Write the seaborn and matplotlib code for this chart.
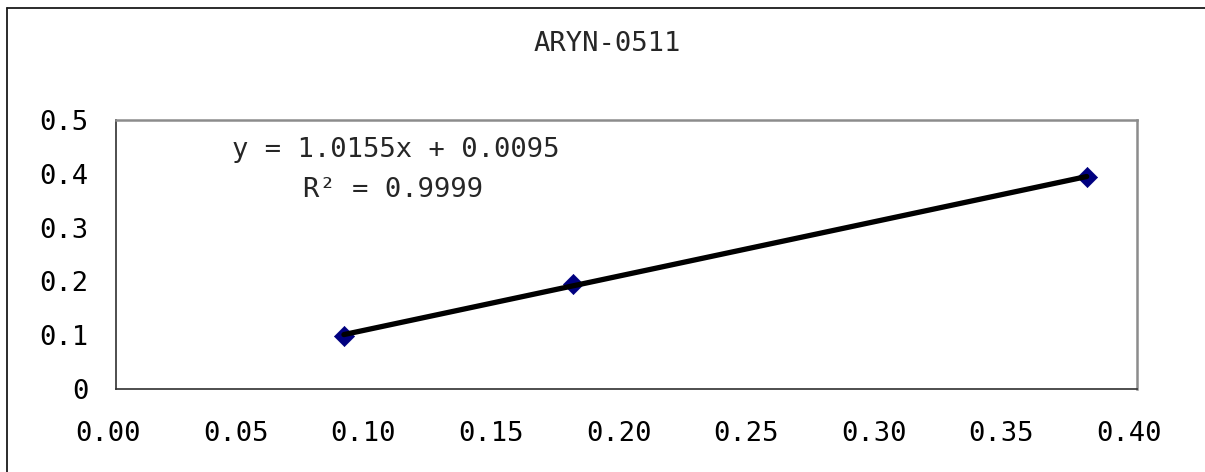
import numpy as np
import pandas as pd
import seaborn as sns
import matplotlib
matplotlib.use("Agg")
import matplotlib.pyplot as plt
from matplotlib.lines import Line2D
from matplotlib.transforms import ScaledTranslation

# Data
title = "ARYN-0511"
x_vals = [0.0893, 0.1792, 0.3803]
y_vals = [0.099, 0.195, 0.394]
x_ticks = [0.00, 0.05, 0.10, 0.15, 0.20, 0.25, 0.30, 0.35, 0.40]
x_tick_labels = ["0.00", "0.05", "0.10", "0.15", "0.20", "0.25", "0.30", "0.35", "0.40"]
y_ticks = [0, 0.1, 0.2, 0.3, 0.4, 0.5]
y_tick_labels = ["0", "0.1", "0.2", "0.3", "0.4", "0.5"]
eq_text = "y = 1.0155x + 0.0095"
r2_text = "R² = 0.9999"

sns.set_style("white")
plt.rcParams["font.family"] = ["DejaVu Sans Mono", "DejaVu Sans"]

FS = 19.5
W, H = 1205, 472
fig = plt.figure(figsize=(W / 100, H / 100), dpi=100)
ax = fig.add_axes([116 / W, (H - 389) / H, 1021 / W, 269 / H])

df = pd.DataFrame({"x": x_vals, "y": y_vals})
sns.regplot(data=df, x="x", y="y", ax=ax, ci=None, truncate=True,
            marker="D",
            scatter_kws={"s": 105, "color": "#000080", "edgecolor": "#000080",
                         "linewidths": 0.5, "alpha": 1, "zorder": 2},
            line_kws={"color": "black", "linewidth": 3.8, "zorder": 3})

ax.set_xlim(0, 0.40)
ax.set_ylim(0, 0.5)
ax.set_xticks(x_ticks)
ax.set_xticklabels(x_tick_labels)
ax.set_yticks(y_ticks)
ax.set_yticklabels(y_tick_labels)
ax.set_xlabel("")
ax.set_ylabel("")

ax.tick_params(axis="both", direction="in", length=6.5, width=1.0,
               color="#404040", labelsize=FS, labelcolor="black")
ax.tick_params(axis="y", pad=20)
ax.tick_params(axis="x", pad=23)

# x tick labels sit slightly left of their ticks in the reference
offset = ScaledTranslation(-8 / 100, 0, fig.dpi_scale_trans)
for lbl in ax.get_xticklabels():
    lbl.set_transform(lbl.get_transform() + offset)

for side in ["left", "bottom"]:
    ax.spines[side].set_color("#303030")
    ax.spines[side].set_linewidth(1.2)
for side in ["top", "right"]:
    ax.spines[side].set_color("#8c8c8c")
    ax.spines[side].set_linewidth(1.8)

# Equation / R² text
fig.text(232 / W, 1 - 150 / H, eq_text, fontsize=FS, ha="left", va="center")
fig.text(303 / W, 1 - 190 / H, r2_text, fontsize=FS, ha="left", va="center")

# Title
fig.text(607 / W, 1 - 44 / H, title, fontsize=FS, ha="center", va="center")

# Outer chart border (left and top visible)
fig.add_artist(Line2D([6.5 / W, 6.5 / W], [0, 1 - 7.5 / H],
                      transform=fig.transFigure, color="#1a1a1a", linewidth=1.3))
fig.add_artist(Line2D([6.5 / W, 1], [1 - 7.5 / H, 1 - 7.5 / H],
                      transform=fig.transFigure, color="#1a1a1a", linewidth=1.3))

fig.savefig("out.png", dpi=100, facecolor="white")
